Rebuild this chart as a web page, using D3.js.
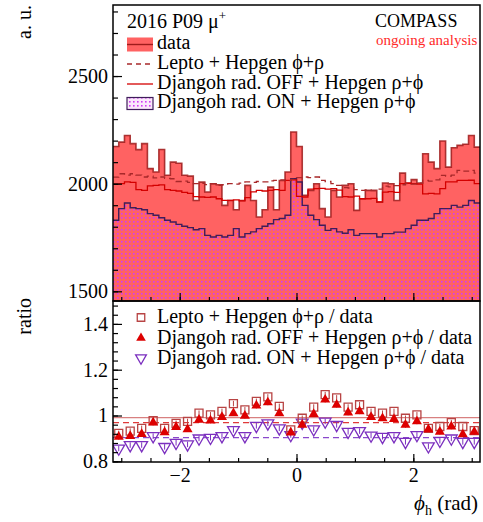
<!DOCTYPE html>
<html>
<head>
<meta charset="utf-8">
<script src="https://cdn.jsdelivr.net/npm/d3@7"></script>
<style>
  body { margin: 0; background: #fff; }
  svg, svg text { font-family: "Liberation Serif", "Times New Roman", serif !important; }
</style>
</head>
<body>
<script>
// ---- phi_h distributions, 64 bins on [-pi, pi] ----
const dataCounts = [
  2173, 2193, 2224, 2186, 2158, 2186, 2070, 2054, 2159, 2039, 2100, 2095, 2039, 2035, 1922, 2007,
  1961, 2000, 1995, 1899, 1922, 1879, 1922, 1992, 1922, 1845, 1879, 1984, 1879, 2015, 2054, 2240,
  2173, 1946, 1969, 2000, 1884, 1845, 1969, 1938, 1992, 2000, 1876, 1930, 1969, 1969, 1915, 2003,
  2000, 1922, 2049, 2003, 2019, 2003, 2139, 2100, 2070, 2198, 2077, 2167, 2178, 2183, 2224, 2170
];
const leptoCounts = [
  2030, 2046, 2040, 2046, 2040, 2031, 2035, 2027, 2031, 2025, 2023, 2010, 2012, 2006, 2000, 2002,
  1996, 2000, 1992, 1995, 2000, 1998, 2003, 2008, 2006, 2010, 2008, 2013, 2015, 2018, 2014, 2020,
  2028, 2031, 2028, 2031, 2015, 2010, 2000, 1992, 1982, 1980, 1972, 1969, 1971, 1968, 1975, 1989,
  1985, 1991, 1995, 2000, 1998, 2003, 2015, 2012, 2018, 2039, 2035, 2040, 2062, 2058, 2062, 2049
];
const djangohOffCounts = [
  1998, 2000, 2008, 2006, 1972, 1969, 1990, 1992, 1994, 1972, 1969, 1966, 1960, 1955, 1940, 1938,
  1936, 1938, 1930, 1922, 1922, 1925, 1920, 1935, 1962, 1969, 1966, 1969, 1972, 1969, 2015, 2018,
  1941, 1938, 1975, 1977, 1978, 1975, 1977, 1970, 1940, 1938, 1942, 1930, 1930, 1932, 1915, 1961,
  1963, 1960, 2000, 2002, 2000, 1998, 1953, 1955, 1953, 1977, 2008, 2008, 2015, 2015, 2016, 2000
];
const djangohOnCounts = [
  1830, 1884, 1910, 1888, 1884, 1879, 1861, 1853, 1842, 1830, 1822, 1811, 1802, 1796, 1786, 1791,
  1760, 1752, 1760, 1752, 1760, 1791, 1752, 1768, 1776, 1791, 1802, 1814, 1833, 1838, 1853, 2023,
  2008, 1899, 1853, 1833, 1807, 1783, 1791, 1776, 1770, 1786, 1760, 1768, 1768, 1768, 1752, 1768,
  1768, 1775, 1775, 1791, 1807, 1830, 1830, 1838, 1861, 1884, 1884, 1899, 1891, 1899, 1922, 1910
];

// ---- MC / data ratios, 32 bins on [-pi, pi] ----
const leptoRatio = [
  0.922, 0.932, 0.944, 0.978, 0.944, 0.966, 0.974, 1.010, 1.003, 1.018, 1.052, 1.025, 1.062, 1.081, 1.040, 0.937,
  0.988, 1.037, 1.091, 1.077, 1.037, 1.047, 1.018, 1.010, 1.018, 0.988, 1.003, 0.944, 0.952, 0.969, 0.952, 0.934
];
const offRatio = [
  0.907, 0.910, 0.919, 0.969, 0.927, 0.949, 0.940, 0.981, 0.978, 0.993, 1.010, 0.999, 1.043, 1.057, 1.010, 0.925,
  0.959, 1.006, 1.069, 1.047, 1.013, 1.018, 0.993, 0.988, 0.984, 0.959, 0.974, 0.940, 0.929, 0.952, 0.918, 0.929
];
const onRatio = [
  0.856, 0.871, 0.871, 0.910, 0.863, 0.881, 0.874, 0.900, 0.903, 0.910, 0.937, 0.910, 0.955, 0.966, 0.944, 0.915,
  0.969, 0.940, 0.974, 0.959, 0.929, 0.932, 0.913, 0.907, 0.910, 0.885, 0.915, 0.866, 0.890, 0.900, 0.885, 0.885
];
const ratioErr = 0.012;
// average ratios drawn as horizontal reference lines
const meanRatios = { lepto: 0.991, off: 0.969, on: 0.903 };

// ---- tick values ----
const topMajorTicks = [1500, 2000, 2500];
const topMinorTicks = d3.range(1500, 2801, 100);
const ratioMajorTicks = [0.8, 1.0, 1.2, 1.4];
const ratioMinorTicks = d3.range(0.8, 1.5001, 0.04);
const xMajorTicks = [-2, 0, 2];
const xMinorTicks = d3.range(-3, 3.001, 0.5);

// ---- labels ----
const legendTop = [
  "data",
  "Lepto + Hepgen \u03D5+\u03C1",
  "Djangoh rad. OFF + Hepgen \u03C1+\u03D5",
  "Djangoh rad. ON + Hepgen \u03C1+\u03D5"
];
const legendRatio = [
  "Lepto + Hepgen \u03D5+\u03C1 / data",
  "Djangoh rad. OFF + Hepgen \u03C1+\u03D5 / data",
  "Djangoh rad. ON + Hepgen \u03C1+\u03D5 / data"
];

const W = 483, H = 522;
const L = 113, R = 480, T = 5, MID = 301, B = 462;
const FONT = "'Liberation Serif', 'Times New Roman', serif";

const COL = {
  dataFill: "#ff6262",
  dataLine: "#9e1b1b",
  lepto: "#a8282a",
  off: "#d40000",
  onLine: "#3f1d5a",
  onDots: "#d23cf5",
  sq: "#b84444",
  tri: "#dd0000",
  tdown: "#7b2fbf",
  leptoMean: "#d88080",
  offMean: "#e03a3a",
  onMean: "#8a48cc"
};

const svg = d3.select("body").append("svg").attr("width", W).attr("height", H)
  .style("font-family", FONT);
const defs = svg.append("defs");

const pat = defs.append("pattern").attr("id", "dots")
  .attr("patternUnits", "userSpaceOnUse").attr("width", 4).attr("height", 4);
pat.append("rect").attr("x", 1).attr("y", 1).attr("width", 1.6).attr("height", 1.6).attr("fill", COL.onDots);

defs.append("clipPath").attr("id", "clipTop").append("rect")
  .attr("x", L).attr("y", T).attr("width", R - L).attr("height", MID - T);
defs.append("clipPath").attr("id", "clipRatio").append("rect")
  .attr("x", L).attr("y", MID).attr("width", R - L).attr("height", B - MID);

const x = d3.scaleLinear().domain([-Math.PI, Math.PI]).range([L, R]);
const yTop = d3.scaleLinear().domain([1455, 2830]).range([MID, T]);
const yRat = d3.scaleLinear().domain([0.797, 1.5]).range([B, MID]);

const nHist = dataCounts.length;
const histEdges = d3.range(nHist + 1).map(i => -Math.PI + 2 * Math.PI * i / nHist);
const nRat = leptoRatio.length;
const ratCenters = d3.range(nRat).map(i => -Math.PI + 2 * Math.PI * (i + 0.5) / nRat);

function stepPoints(vals) {
  const pts = vals.map((v, i) => [histEdges[i], v]);
  pts.push([histEdges[nHist], vals[nHist - 1]]);
  return pts;
}
const stepLine = d3.line().x(d => x(d[0])).y(d => yTop(d[1])).curve(d3.curveStepAfter);
const stepArea = d3.area().x(d => x(d[0])).y0(MID).y1(d => yTop(d[1])).curve(d3.curveStepAfter);

// ---------- top panel ----------
const gTop = svg.append("g").attr("clip-path", "url(#clipTop)");
gTop.append("path").attr("d", stepArea(stepPoints(dataCounts))).attr("fill", COL.dataFill);
gTop.append("path").attr("d", stepArea(stepPoints(djangohOnCounts))).attr("fill", "url(#dots)");
gTop.append("path").attr("d", stepLine(stepPoints(dataCounts)))
  .attr("fill", "none").attr("stroke", COL.dataLine).attr("stroke-width", 1.6).attr("stroke-opacity", 0.85);
gTop.append("path").attr("d", stepLine(stepPoints(djangohOnCounts)))
  .attr("fill", "none").attr("stroke", COL.onLine).attr("stroke-width", 1.4);
gTop.append("path").attr("d", stepLine(stepPoints(djangohOffCounts)))
  .attr("fill", "none").attr("stroke", COL.off).attr("stroke-width", 1.3);
gTop.append("path").attr("d", stepLine(stepPoints(leptoCounts)))
  .attr("fill", "none").attr("stroke", COL.lepto).attr("stroke-width", 1.3).attr("stroke-dasharray", "6,4");

// ---------- ratio panel ----------
const gRat = svg.append("g").attr("clip-path", "url(#clipRatio)");
function hline(v, color, dash) {
  gRat.append("line").attr("x1", L).attr("x2", R).attr("y1", yRat(v)).attr("y2", yRat(v))
    .attr("stroke", color).attr("stroke-width", 1.3).attr("stroke-dasharray", dash || null);
}
hline(meanRatios.lepto, COL.leptoMean, null);
hline(meanRatios.off, COL.offMean, "6,4");
hline(meanRatios.on, COL.onMean, "6,4");

function errBars(vals, color) {
  gRat.append("g").selectAll("line").data(vals).join("line")
    .attr("x1", (d, i) => x(ratCenters[i])).attr("x2", (d, i) => x(ratCenters[i]))
    .attr("y1", d => yRat(d - ratioErr)).attr("y2", d => yRat(d + ratioErr))
    .attr("stroke", color).attr("stroke-width", 1);
}
const sqSym = d3.symbol().type(d3.symbolSquare).size(64);
const triUp = d3.symbol().type(d3.symbolTriangle).size(44);
const triDown = d3.symbol().type(d3.symbolTriangle).size(60);

errBars(onRatio, COL.tdown);
gRat.append("g").selectAll("path").data(onRatio).join("path")
  .attr("d", triDown())
  .attr("transform", (d, i) => `translate(${x(ratCenters[i])},${yRat(d)}) rotate(180)`)
  .attr("fill", "none").attr("stroke", COL.tdown).attr("stroke-width", 1.3);

errBars(leptoRatio, COL.sq);
gRat.append("g").selectAll("path").data(leptoRatio).join("path")
  .attr("d", sqSym())
  .attr("transform", (d, i) => `translate(${x(ratCenters[i])},${yRat(d)})`)
  .attr("fill", "none").attr("stroke", COL.sq).attr("stroke-width", 1.3);

errBars(offRatio, COL.tri);
gRat.append("g").selectAll("path").data(offRatio).join("path")
  .attr("d", triUp())
  .attr("transform", (d, i) => `translate(${x(ratCenters[i])},${yRat(d)})`)
  .attr("fill", COL.tri);

// ---------- axes ----------
function styleAxis(g) {
  g.attr("font-family", null).style("font-family", FONT);
  g.select(".domain").remove();
  g.selectAll(".tick line").attr("stroke", "#000").attr("stroke-width", 1.2);
  g.selectAll(".tick text").attr("fill", "#000").attr("font-size", 20)
    .style("font-family", FONT);
}

// top panel, y
svg.append("g").attr("transform", `translate(${L},0)`)
  .call(d3.axisLeft(yTop).tickValues(topMinorTicks).tickSize(-5).tickFormat(""))
  .call(styleAxis);
svg.append("g").attr("transform", `translate(${L},0)`)
  .call(d3.axisLeft(yTop).tickValues(topMajorTicks).tickSize(-9).tickPadding(5).tickFormat(d3.format("d")))
  .call(styleAxis);
// top panel, x (ticks only)
svg.append("g").attr("transform", `translate(0,${MID})`)
  .call(d3.axisBottom(x).tickValues(xMinorTicks).tickSize(-4).tickFormat(""))
  .call(styleAxis);
svg.append("g").attr("transform", `translate(0,${MID})`)
  .call(d3.axisBottom(x).tickValues(xMajorTicks).tickSize(-8).tickFormat(""))
  .call(styleAxis);

// ratio panel, y
svg.append("g").attr("transform", `translate(${L},0)`)
  .call(d3.axisLeft(yRat).tickValues(ratioMinorTicks).tickSize(-5).tickFormat(""))
  .call(styleAxis);
svg.append("g").attr("transform", `translate(${L},0)`)
  .call(d3.axisLeft(yRat).tickValues(ratioMajorTicks).tickSize(-9).tickPadding(5)
    .tickFormat(d => d3.format("~g")(d)))
  .call(styleAxis);
// ratio panel, x
svg.append("g").attr("transform", `translate(0,${B})`)
  .call(d3.axisBottom(x).tickValues(xMinorTicks).tickSize(-4).tickFormat(""))
  .call(styleAxis);
svg.append("g").attr("transform", `translate(0,${B})`)
  .call(d3.axisBottom(x).tickValues(xMajorTicks).tickSize(-8).tickPadding(6)
    .tickFormat(d => d < 0 ? "\u2212" + Math.abs(d) : String(d)))
  .call(styleAxis);

// frames
svg.append("rect").attr("x", L).attr("y", T).attr("width", R - L).attr("height", MID - T)
  .attr("fill", "none").attr("stroke", "#000").attr("stroke-width", 1.5);
svg.append("rect").attr("x", L).attr("y", MID).attr("width", R - L).attr("height", B - MID)
  .attr("fill", "none").attr("stroke", "#000").attr("stroke-width", 1.5);

// axis titles
svg.append("text").attr("transform", "translate(31,5) rotate(-90)")
  .attr("text-anchor", "end").attr("font-size", 20).text("a. u.");
svg.append("text").attr("transform", "translate(31,298) rotate(-90)")
  .attr("text-anchor", "end").attr("font-size", 20).text("ratio");
const xt = svg.append("text").attr("x", 478).attr("y", 510).attr("text-anchor", "end").attr("font-size", 21);
xt.append("tspan").attr("font-style", "italic").text("\u03D5");
xt.append("tspan").attr("font-size", 14).attr("dy", 5).text("h");
xt.append("tspan").attr("dy", -5).text(" (rad)");

// ---------- top legend ----------
const leg = svg.append("g").attr("font-size", 20);
const title = leg.append("text").attr("x", 127).attr("y", 28);
title.append("tspan").text("2016 P09 \u03BC");
title.append("tspan").attr("font-size", 13).attr("dy", -8).text("+");

const rowY = [44.5, 64, 84, 103.5];
const textY = [49, 68.8, 88.5, 108.3];
const sx0 = 127, sx1 = 153, tx = 157;
leg.append("rect").attr("x", sx0).attr("y", rowY[0] - 7).attr("width", sx1 - sx0).attr("height", 14)
  .attr("fill", COL.dataFill);
leg.append("line").attr("x1", sx0).attr("x2", sx1).attr("y1", rowY[0]).attr("y2", rowY[0])
  .attr("stroke", COL.dataLine).attr("stroke-width", 1.4);
leg.append("line").attr("x1", sx0).attr("x2", sx1).attr("y1", rowY[1]).attr("y2", rowY[1])
  .attr("stroke", COL.lepto).attr("stroke-width", 1.3).attr("stroke-dasharray", "5,4");
leg.append("line").attr("x1", sx0).attr("x2", sx1).attr("y1", rowY[2]).attr("y2", rowY[2])
  .attr("stroke", COL.off).attr("stroke-width", 1.3);
leg.append("rect").attr("x", sx0).attr("y", rowY[3] - 6).attr("width", sx1 - sx0).attr("height", 12)
  .attr("fill", "#fbe8fb");
leg.append("rect").attr("x", sx0).attr("y", rowY[3] - 6).attr("width", sx1 - sx0).attr("height", 12)
  .attr("fill", "url(#dots)").attr("stroke", COL.onLine).attr("stroke-width", 1.2);
legendTop.forEach((t, i) => leg.append("text").attr("x", tx).attr("y", textY[i]).text(t));

svg.append("text").attr("x", 375).attr("y", 27).attr("font-size", 18).text("COMPASS");
svg.append("text").attr("x", 376).attr("y", 45).attr("font-size", 15).attr("fill", "#ff2a2a").text("ongoing analysis");

// ---------- ratio legend ----------
const rl = svg.append("g").attr("font-size", 20);
const rRowY = [317.5, 338, 358];
rl.append("path").attr("d", d3.symbol().type(d3.symbolSquare).size(56)())
  .attr("transform", `translate(141,${rRowY[0]})`).attr("fill", "none").attr("stroke", COL.sq).attr("stroke-width", 1.3);
rl.append("path").attr("d", d3.symbol().type(d3.symbolTriangle).size(40)())
  .attr("transform", `translate(141,${rRowY[1]})`).attr("fill", COL.tri);
rl.append("path").attr("d", d3.symbol().type(d3.symbolTriangle).size(50)())
  .attr("transform", `translate(141,${rRowY[2]}) rotate(180)`).attr("fill", "none").attr("stroke", COL.tdown).attr("stroke-width", 1.3);
legendRatio.forEach((t, i) => rl.append("text").attr("x", 157).attr("y", rRowY[i] + 5.5).text(t));
</script>
</body>
</html>
